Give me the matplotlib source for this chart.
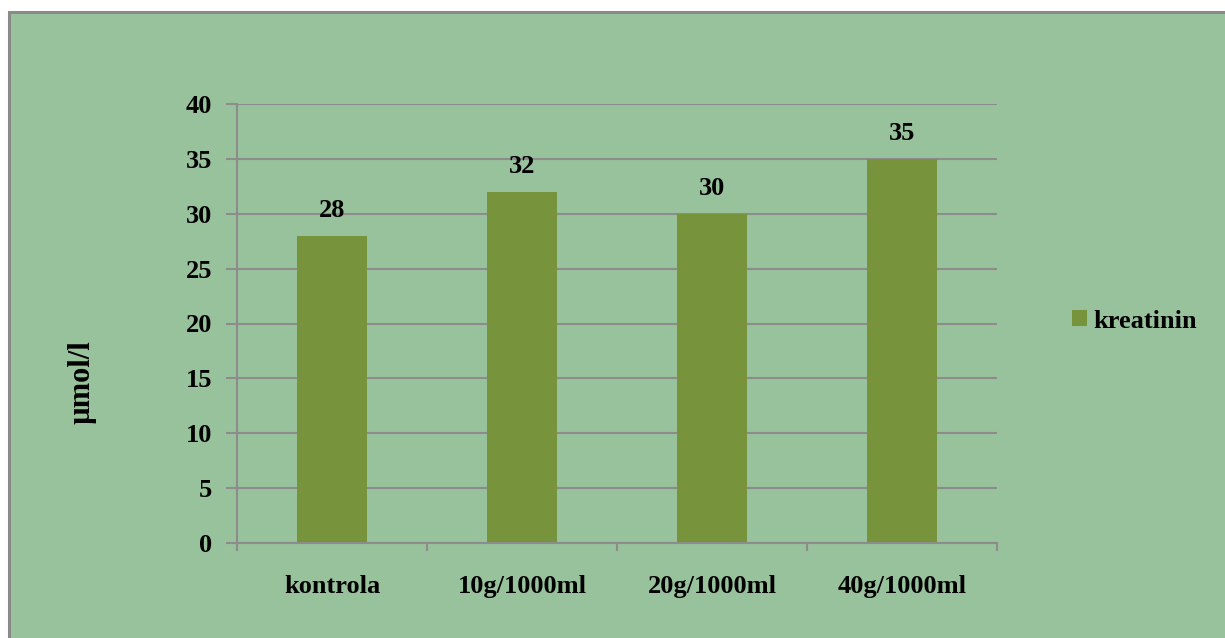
import matplotlib.pyplot as plt
from matplotlib.patches import Rectangle

categories = ["kontrola", "10g/1000ml", "20g/1000ml", "40g/1000ml"]
values = [28, 32, 30, 35]
series_name = "kreatinin"
y_ticks = [0, 5, 10, 15, 20, 25, 30, 35, 40]
y_label = "µmol/l"

BG = "#98c29c"
BAR = "#77933c"
GRID = "#8c8c8c"
W, H = 1225, 638
FS = 19

plt.rcParams["font.family"] = ["Liberation Serif", "DejaVu Serif"]
plt.rcParams["font.weight"] = "bold"

fig = plt.figure(figsize=(W / 100, H / 100), dpi=100)
fig.patch.set_facecolor("white")

# chart area with a grey frame on its top and left edge
frame = Rectangle((8.5 / W, -0.2), 1.2, 1.2 - 11.5 / H, transform=fig.transFigure,
                  facecolor=BG, edgecolor="#8a8a8a", linewidth=2.2, zorder=0)
fig.patches.append(frame)

ax = fig.add_axes([237 / W, 1 - 543 / H, (997 - 237) / W, (543 - 104) / H])
ax.set_zorder(2)
ax.set_facecolor("none")
x = range(len(categories))
bars = ax.bar(x, values, width=0.37, color=BAR, zorder=2, label=series_name)

ax.set_xlim(-0.5, len(categories) - 0.5)
ax.set_ylim(0, 40)
ax.set_yticks(y_ticks)
ax.set_yticklabels([str(t) for t in y_ticks], fontsize=FS, fontweight="bold")
ax.yaxis.grid(True, color=GRID, linewidth=1.5, zorder=1)
ax.set_axisbelow(True)

ax.set_xticks([i - 0.5 for i in range(len(categories) + 1)])
ax.set_xticklabels([])
ax.set_xticks(list(x), minor=True)
ax.set_xticklabels(categories, minor=True, fontsize=FS, fontweight="bold")
ax.tick_params(axis="x", which="minor", length=0, pad=23)
ax.tick_params(axis="x", which="major", length=6, width=1.5, color=GRID)
ax.tick_params(axis="y", length=8, width=1.5, color=GRID, pad=10)

for s in ["top", "right"]:
    ax.spines[s].set_visible(False)
for s in ["left", "bottom"]:
    ax.spines[s].set_color(GRID)
    ax.spines[s].set_linewidth(1.5)

for b, v in zip(bars, values):
    ax.annotate(str(v), (b.get_x() + b.get_width() / 2, v), xytext=(0, 18.5),
                textcoords="offset points", ha="center", va="center",
                fontsize=FS, fontweight="bold")

fig.text(82 / W, 1 - 382 / H, y_label, rotation=90, ha="center", va="center",
         fontsize=22, fontweight="bold")

ax.legend(loc="center left", bbox_to_anchor=(1059 / W, 1 - 321 / H),
          bbox_transform=fig.transFigure, frameon=False, prop={"size": FS, "weight": "bold"},
          handlelength=0.55, handleheight=0.55, handletextpad=0.25, borderpad=0)

fig.savefig("out.png", dpi=100)
